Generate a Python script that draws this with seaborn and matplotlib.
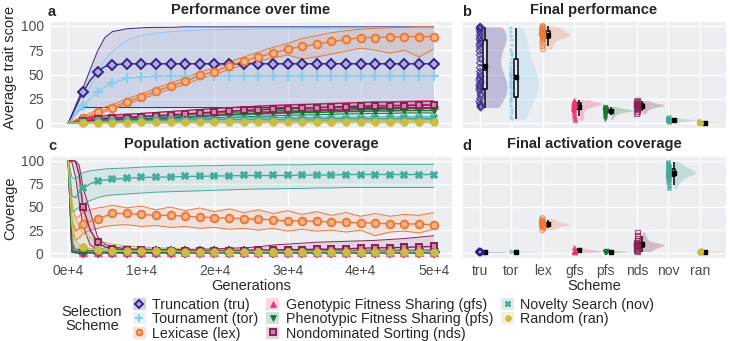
#tratamiento de datos
import numpy as np
import pandas as pd

#visualizaciones
import seaborn as sns
import matplotlib.pyplot as plt
from matplotlib.lines import Line2D
from matplotlib.patches import Patch


# esquemas de seleccion
schemes = ['tru', 'tor', 'lex', 'gfs', 'pfs', 'nds', 'nov', 'ran']
scheme_names = ['Truncation (tru)', 'Tournament (tor)', 'Lexicase (lex)',
                'Genotypic Fitness Sharing (gfs)', 'Phenotypic Fitness Sharing (pfs)',
                'Nondominated Sorting (nds)', 'Novelty Search (nov)', 'Random (ran)']

# generaciones muestreadas
gens = [0, 500, 1000, 1500, 2000, 3000, 4000, 5000, 6000, 8000, 10000, 12000, 14000,
        16000, 18000, 20000, 22000, 24000, 26000, 28000, 30000, 32000, 34000, 36000,
        38000, 40000, 42000, 44000, 46000, 48000, 50000]

xtick_vals = [0, 10000, 20000, 30000, 40000, 50000]
xtick_labels = ['0e+4', '1e+4', '2e+4', '3e+4', '4e+4', '5e+4']
ytick_vals = [0, 25, 50, 75, 100]

# rendimiento medio (mediana) y banda
perf_med = {
    'tru': [0, 8, 16, 24, 32, 44, 53, 58, 60, 61, 61, 61, 61, 61, 61, 61, 61, 61, 61, 61, 61, 61, 61, 61, 61, 61, 61, 61, 61, 61, 61],
    'tor': [0, 4, 9, 13, 17.5, 25, 32, 37, 41, 46, 47.5, 48, 48.5, 48.5, 48.5, 48.5, 48.5, 48.5, 48.5, 48.5, 48.5, 48.5, 48.5, 48.5, 48.5, 48.5, 48.5, 48.5, 48.5, 48.5, 48.5],
    'lex': [0, 1, 2.5, 4, 5, 8, 11, 13.5, 16, 22, 27, 33, 38, 43, 49, 53, 59, 64, 68, 72, 76, 79, 81, 84, 86, 88, 88, 88.5, 89, 89, 89],
    'gfs': [0, 0.5, 1.5, 2.5, 3.5, 4.5, 5, 5.5, 6, 6.5, 7, 7.5, 8, 9, 10, 11, 12, 13, 13.5, 14.5, 15, 15.5, 16, 16.5, 17, 17.5, 18, 18, 18.5, 19, 19],
    'pfs': [0, 0, 0.5, 1, 1.5, 2, 2.5, 3, 3.5, 4, 4.5, 5, 6, 6.5, 7, 8, 8.5, 9, 9.5, 10, 10.5, 11, 11, 11.5, 12, 12, 12.5, 12.5, 13, 13, 13],
    'nds': [0, 0, 1, 1.5, 2, 3, 4, 4.5, 5, 5.5, 6.5, 7.5, 8.5, 9.5, 10.5, 11.5, 12.5, 13, 14, 14.5, 15, 15.5, 16, 16.5, 17, 17.5, 18, 18, 18, 18.5, 18.5],
    'nov': [0, 0.3, 0.6, 1, 1.2, 1.5, 1.8, 2, 2.2, 2.5, 2.8, 3, 3, 3.2, 3.4, 3.5, 3.7, 3.8, 4, 4, 4.2, 4.3, 4.4, 4.5, 4.6, 4.7, 4.8, 4.9, 5, 5, 5],
    'ran': [0, 0.1, 0.2, 0.3, 0.4, 0.4, 0.5, 0.5, 0.6, 0.6, 0.7, 0.7, 0.7, 0.8, 0.8, 0.8, 0.8, 0.9, 0.9, 0.9, 0.9, 0.9, 1, 1, 1, 1, 1, 1, 1, 1, 1],
}
perf_lo = {
    'tru': [0, 4, 9, 13, 16, 16, 16, 16, 16, 16, 16, 16, 16, 16, 16, 16, 16, 16, 16, 16, 16, 16, 16, 16, 16, 16, 16, 16, 16, 16, 16],
    'tor': [0, 1, 2, 3, 3.5, 4, 4, 4, 4, 4, 4, 4, 4, 4, 4, 4, 4, 4, 4, 4, 4, 4, 4, 4, 4, 4, 4, 4, 4, 4, 4],
    'lex': [0, 0.5, 1.5, 3, 4, 6.5, 9, 11.5, 14, 19.5, 24.5, 30, 35, 40, 45.5, 50, 55, 60, 63.5, 67, 70, 66, 68, 71, 74, 77, 75, 72, 75, 68, 76],
    'gfs': [0, 0, 0.5, 1, 2, 2.5, 3, 3.5, 4, 4, 4.5, 5, 5.5, 6, 7, 8, 9, 9.5, 10, 11, 11.5, 12, 12.5, 13, 13.5, 14, 14, 14.5, 15, 15, 15.5],
    'pfs': [0, 0, 0, 0.5, 0.5, 1, 1.5, 2, 2, 2.5, 3, 3.5, 4, 4.5, 5, 5.5, 6, 6.5, 7, 7.5, 8, 8.5, 8.5, 9, 9.5, 9.5, 10, 10, 10.5, 10.5, 10.5],
    'nds': [0, 0, 0.5, 0.5, 1, 1.5, 2, 2.5, 3, 3, 3.5, 4, 5, 6, 7, 8, 9, 9.5, 10.5, 11, 11.5, 12, 12.5, 13, 13.5, 14, 14.5, 14.5, 15, 15, 15],
    'nov': [0, 0, 0.2, 0.4, 0.5, 0.7, 0.9, 1, 1.1, 1.3, 1.5, 1.6, 1.7, 1.8, 1.9, 2, 2.1, 2.2, 2.3, 2.4, 2.5, 2.6, 2.7, 2.8, 2.9, 3, 3.1, 3.2, 3.3, 3.3, 3.4],
    'ran': [0, 0, 0, 0, 0, 0, 0, 0, 0.1, 0.1, 0.1, 0.1, 0.1, 0.1, 0.2, 0.2, 0.2, 0.2, 0.2, 0.2, 0.2, 0.2, 0.3, 0.3, 0.3, 0.3, 0.3, 0.3, 0.3, 0.3, 0.3],
}
perf_hi = {
    'tru': [0, 9, 18, 27, 36, 55, 74, 88, 94, 97, 98, 98.5, 98.5, 99, 99, 99, 99, 99, 99, 99, 99, 99, 99, 99, 99, 99, 99, 99, 99, 99, 99],
    'tor': [0, 5, 11, 17, 23, 37, 53, 65, 74, 85, 90, 92.5, 94, 95, 95.5, 96, 96.5, 96.5, 97, 97, 97, 97, 97.5, 97.5, 97.5, 97.5, 98, 98, 98, 98, 98],
    'lex': [0, 1.5, 3.5, 5.5, 7, 10.5, 13.5, 16.5, 19, 25, 30, 36, 41, 46.5, 52.5, 57, 63, 68, 73, 78, 82, 87, 90, 93, 95, 96.5, 97.5, 98, 98.5, 99, 99],
    'gfs': [0, 1, 2.5, 4, 5, 6.5, 7.5, 8, 8.5, 9.5, 10, 11, 12, 13, 14, 15, 16, 17, 17.5, 18.5, 19, 19.5, 20, 20.5, 21, 21.5, 22, 22, 22.5, 23, 23],
    'pfs': [0, 0.5, 1, 2, 2.5, 3, 4, 4.5, 5, 5.5, 6.5, 7, 8, 8.5, 9.5, 10, 11, 11.5, 12, 12.5, 13, 13.5, 14, 14, 14.5, 15, 15, 15.5, 15.5, 16, 16],
    'nds': [0, 0.5, 2, 3, 4, 5.5, 7, 7.5, 8, 9, 10, 11, 12, 13, 14, 15, 16, 16.5, 17.5, 18, 18.5, 19, 19.5, 20, 20.5, 21, 21.5, 21.5, 22, 22, 22.5],
    'nov': [0, 0.8, 1.5, 2, 2.5, 3, 3.3, 3.5, 3.8, 4, 4.3, 4.5, 4.6, 4.8, 5, 5.1, 5.3, 5.4, 5.6, 5.7, 5.8, 5.9, 6, 6.1, 6.2, 6.3, 6.4, 6.5, 6.5, 6.6, 6.6],
    'ran': [0, 0.4, 0.7, 0.9, 1.1, 1.2, 1.3, 1.4, 1.5, 1.6, 1.7, 1.8, 1.8, 1.9, 1.9, 2, 2, 2, 2.1, 2.1, 2.1, 2.2, 2.2, 2.2, 2.2, 2.3, 2.3, 2.3, 2.3, 2.3, 2.3],
}

# cobertura de activacion (mediana) y banda
cov_med = {
    'tru': [100, 4, 2, 1.5, 1.5, 1.5, 1.5, 1.5, 1.5, 1.5, 1.5, 1.5, 1.5, 1.5, 1.5, 1.5, 1.5, 1.5, 1.5, 1.5, 1.5, 1.5, 1.5, 1.5, 1.5, 1.5, 1.5, 1.5, 1.5, 1.5, 1.5],
    'tor': [100, 5, 2.5, 2, 2, 2, 2, 2, 2, 2, 2, 2, 2, 2, 2, 2, 2, 2, 2, 2, 2, 2, 2, 2, 2, 2, 2, 2, 2, 2, 2],
    'lex': [100, 35, 24, 27, 32, 35, 37, 40, 43, 43, 42, 41, 41, 40, 39, 38.5, 38, 37.5, 37, 36, 35, 35, 34.5, 34, 33.5, 33, 32.5, 32, 32, 31.5, 31],
    'gfs': [100, 4, 2, 1.5, 1, 1, 1, 1, 1, 1, 1, 1, 1, 1, 1, 1, 1, 1, 1, 1, 1, 1, 1, 1, 1, 1, 1, 1, 1, 1, 1],
    'pfs': [100, 3, 1.5, 1, 1, 1, 1, 1, 1, 1, 1, 1, 1, 1, 1, 1, 1, 1, 1, 1, 1, 1, 1, 1, 1, 1, 1, 1, 1, 1, 1],
    'nds': [100, 100, 99, 85, 50, 25, 12, 7, 5, 4, 3.5, 3, 3, 3, 3, 3, 3, 3, 3.5, 3.5, 4, 4, 4.5, 4.5, 5, 5.5, 6, 6, 6.5, 7, 7.5],
    'nov': [100, 62, 60, 66, 70, 75, 78, 79, 80, 81, 82, 82, 82.5, 83, 83, 83.5, 83.5, 84, 84, 84, 84, 84.5, 84.5, 84.5, 85, 85, 85, 85, 85, 85, 85],
    'ran': [100, 30, 14, 9, 7, 5, 4, 3.5, 3, 2.5, 2.5, 2.5, 2.5, 2, 2, 2, 2, 2, 2, 2, 2, 2, 2, 2, 2, 2, 2, 2, 2, 2, 2],
}
cov_lo = {
    'tru': [100, 2, 1, 1, 1, 1, 1, 1, 1, 1, 1, 1, 1, 1, 1, 1, 1, 1, 1, 1, 1, 1, 1, 1, 1, 1, 1, 1, 1, 1, 1],
    'tor': [100, 2, 1, 1, 1, 1, 1, 1, 1, 1, 1, 1, 1, 1, 1, 1, 1, 1, 1, 1, 1, 1, 1, 1, 1, 1, 1, 1, 1, 1, 1],
    'lex': [100, 22, 14, 17, 21, 25, 27, 29, 30, 31, 29, 30, 28, 29, 27, 28, 26, 27, 25, 27, 24, 26, 24, 25, 23, 25, 19, 23, 24, 22, 26],
    'gfs': [100, 1, 0.5, 0.5, 0.5, 0.5, 0.5, 0.5, 0.5, 0.5, 0.5, 0.5, 0.5, 0.5, 0.5, 0.5, 0.5, 0.5, 0.5, 0.5, 0.5, 0.5, 0.5, 0.5, 0.5, 0.5, 0.5, 0.5, 0.5, 0.5, 0.5],
    'pfs': [100, 1, 0.5, 0.5, 0.5, 0.5, 0.5, 0.5, 0.5, 0.5, 0.5, 0.5, 0.5, 0.5, 0.5, 0.5, 0.5, 0.5, 0.5, 0.5, 0.5, 0.5, 0.5, 0.5, 0.5, 0.5, 0.5, 0.5, 0.5, 0.5, 0.5],
    'nds': [100, 98, 82, 55, 30, 9, 4, 3, 2.5, 2, 2, 2, 2, 2, 2, 2, 2, 2, 2, 2, 2, 2.5, 2.5, 2.5, 3, 3, 3, 3, 3.5, 3.5, 4],
    'nov': [100, 45, 47, 50, 53, 57, 60, 62, 63, 64, 65, 66, 66.5, 67, 67.5, 68, 68.5, 69, 69.5, 69.5, 70, 70, 70.5, 70.5, 71, 71, 71, 71, 71, 71, 71],
    'ran': [100, 15, 5, 3, 2, 1.5, 1, 1, 1, 1, 1, 1, 1, 1, 1, 1, 1, 1, 1, 1, 1, 1, 1, 1, 1, 1, 1, 1, 1, 1, 1],
}
cov_hi = {
    'tru': [100, 12, 5, 4, 3.5, 3, 3, 3, 3, 3, 3, 3, 3, 3, 3, 3, 3, 3, 3, 3, 3, 3, 3, 3, 3, 3, 3, 3, 3, 3, 3],
    'tor': [100, 20, 9, 6, 5, 5, 6, 5, 6, 8, 7, 6, 5, 4.5, 4, 4, 4, 4, 4, 4, 4, 4, 4, 4, 4, 4, 4, 4, 4, 4, 4],
    'lex': [100, 55, 38, 40, 44, 47, 49, 50, 52, 49, 51, 47, 50, 46, 49, 45, 48, 44, 47, 43, 46, 42, 45, 41, 44, 40, 43, 40, 42, 41, 44],
    'gfs': [100, 10, 4, 3, 2.5, 2.5, 2.5, 2.5, 2.5, 2.5, 2.5, 2.5, 2.5, 2.5, 2.5, 2.5, 2.5, 2.5, 2.5, 2.5, 2.5, 2.5, 2.5, 2.5, 2.5, 2.5, 2.5, 2.5, 2.5, 2.5, 2.5],
    'pfs': [100, 8, 3, 2.5, 2, 2, 2, 2, 2, 2, 2, 2, 2, 2, 2, 2, 2, 2, 2, 2, 2, 2, 2, 2, 2, 2, 2, 2, 2, 2, 2],
    'nds': [100, 100, 99.5, 95, 72, 45, 18, 10, 7, 5, 4.5, 4.5, 4, 4, 4.5, 5, 5.5, 6, 7, 9, 10, 11, 12, 12.5, 13, 13.5, 14, 15, 16, 17.5, 19],
    'nov': [100, 82, 80, 84, 87, 89, 90, 91, 91.5, 92, 93, 93.5, 94, 94, 94.5, 94.5, 95, 95, 95, 95.5, 95.5, 95.5, 96, 96, 96, 96, 96, 96, 96, 96, 96],
    'ran': [100, 55, 38, 28, 22, 17, 14, 12, 10, 8, 7, 6, 5.5, 5, 4.5, 4.5, 4, 4, 4, 4, 4, 4, 4, 4, 4, 4, 4, 4, 4, 4, 4],
}

# valores finales por replica
final_perf = {
    'tru': [16, 17, 18, 20, 22, 25, 28, 30, 33, 35, 37, 38, 40, 42, 44, 46, 48, 50, 53, 57, 62, 66, 70, 74, 77, 80, 82, 84, 86, 88, 90, 92, 94, 96, 97, 98, 99, 99],
    'tor': [4, 6, 10, 14, 18, 22, 24, 25, 27, 30, 33, 36, 38, 40, 42, 44, 46, 47, 48, 50, 52, 55, 58, 62, 66, 70, 72, 75, 80, 85, 90, 94, 98],
    'lex': [76, 79, 82, 84, 86, 87, 88, 89, 90, 90, 91, 91, 91, 92, 92, 93, 94, 95, 96, 97, 98, 99, 100],
    'gfs': [3, 5, 7, 9, 11, 13, 15, 16, 17, 18, 18, 19, 19, 19, 20, 20, 20, 20, 21, 21, 21, 22, 22, 23, 24],
    'pfs': [4, 6, 8, 9, 10, 11, 11, 12, 12, 12, 13, 13, 13, 13, 13, 14, 14, 14, 15, 15, 16, 17],
    'nds': [10, 12, 14, 15, 16, 17, 17, 18, 18, 18, 19, 19, 19, 20, 20, 21, 22, 23],
    'nov': [1, 2, 2, 3, 3, 3, 3, 4, 4, 4, 5, 6],
    'ran': [0, 0, 0, 0, 0.5, 0.5, 1, 1, 1.5, 2],
}
final_cov = {
    'tru': [1, 1, 1, 1, 1.5, 1.5, 1.5, 1.5, 2, 2, 2],
    'tor': [1, 1, 1.5, 1.5, 1.5, 2, 2, 2, 2.5],
    'lex': [25, 27, 28, 29, 30, 30, 31, 31, 31, 32, 32, 33, 33, 34, 35, 36, 38],
    'gfs': [1, 1.5, 2, 2, 2.5, 3, 3, 3.5, 4, 5, 7],
    'pfs': [1, 1, 1.5, 1.5, 2, 2, 2, 2.5, 3],
    'nds': [2, 3, 4, 5, 6, 7, 8, 8, 9, 9, 9, 10, 10, 11, 12, 14, 16, 19, 23],
    'nov': [70, 74, 77, 79, 80, 82, 83, 84, 85, 86, 86, 87, 87, 87, 88, 88, 89, 90, 91, 92, 93, 94, 95, 97, 99],
    'ran': [0.5, 1, 1.5, 1.5, 2, 2, 2, 2.5, 3, 4],
}

# colores y marcadores
colors = {'tru': '#332288', 'tor': '#88CCEE', 'lex': '#EE7733', 'gfs': '#EE3377',
          'pfs': '#117733', 'nds': '#882255', 'nov': '#44AA99', 'ran': '#CCBB44'}
line_mk = {
    'tru': dict(marker='D', ms=5, mfc='#B3ABDF', mew=1.4),
    'tor': dict(marker='+', ms=7, mew=1.6),
    'lex': dict(marker='o', ms=5.5, mfc='#F6B386', mew=1.4),
    'gfs': dict(marker='^', ms=5.5, mew=0.5),
    'pfs': dict(marker='v', ms=5.5, mew=0.5),
    'nds': dict(marker='s', ms=5, mfc='#C98AAA', mew=1.4),
    'nov': dict(marker='X', ms=6, mew=0.3),
    'ran': dict(marker='o', ms=5.5, mew=0.6),
}
pt_mk = {'tru': ('D', 'open'), 'tor': ('+', 'line'), 'lex': ('o', 'open'), 'gfs': ('^', 'fill'),
         'pfs': ('v', 'fill'), 'nds': ('s', 'open'), 'nov': ('X', 'fill'), 'ran': ('o', 'fill')}

mark_idx = [i for i, g in enumerate(gens) if g > 0 and g % 2000 == 0]


def panel_tiempo(ax, med, lo, hi):
    """Bandas + mediana con marcadores cada 2000 generaciones."""
    for s in schemes:
        ax.fill_between(gens, lo[s], hi[s], color=colors[s], alpha=0.12, lw=0)
    for s in schemes:
        ax.plot(gens, lo[s], color=colors[s], lw=0.7)
        ax.plot(gens, hi[s], color=colors[s], lw=0.7)
    for s in schemes:
        ax.plot(gens, med[s], color=colors[s], lw=1, mec=colors[s],
                markevery=mark_idx, **line_mk[s])
    ax.set_xlim(-2500, 52500)
    ax.set_ylim(-5, 105)
    ax.set_xticks(xtick_vals)
    ax.set_yticks(ytick_vals)


def medio_violin(ax, x0, vals, color, half_width=0.7):
    """Media violin (lado derecho) recortado al rango de los datos."""
    v = np.asarray(vals, dtype=float)
    sd = v.std(ddof=1)
    iqr = np.subtract(*np.percentile(v, [75, 25]))
    bw = 0.9 * min(sd, iqr / 1.34 if iqr > 0 else sd) * len(v) ** -0.2
    bw = max(bw, 0.15)
    y = np.linspace(v.min(), v.max(), 200)
    dens = np.exp(-0.5 * ((y[:, None] - v[None, :]) / bw) ** 2).sum(axis=1)
    dens = dens / dens.max() * half_width
    ax.fill_betweenx(y, x0, x0 + dens, color=color, alpha=0.25, lw=0)


def panel_final(ax, datos):
    """Media-violin + caja + puntos para cada esquema."""
    for i, s in enumerate(schemes):
        vals = datos[s]
        x_pts = [i] * len(vals)
        x_box = [i + 0.16] * len(vals)
        medio_violin(ax, i + 0.16, vals, colors[s])
        mk, kind = pt_mk[s]
        sns.stripplot(x=x_pts, y=vals, native_scale=True, orient='x', jitter=0.03,
                      size=3.5, marker=mk, color=colors[s], ax=ax)
        pts = ax.collections[-1]
        if kind == 'open':
            pts.set_facecolor('none')
            pts.set_edgecolor(colors[s])
            pts.set_linewidth(0.9)
        elif kind == 'line':
            pts.set_edgecolor(colors[s])
            pts.set_linewidth(1.1)
        else:
            pts.set_facecolor(colors[s])
            pts.set_edgecolor(colors[s])
            pts.set_linewidth(0.3)
        pts.set_alpha(0.75)
        sns.boxplot(x=x_box, y=vals, native_scale=True, orient='x', width=0.12,
                    color='black', fill=False, linewidth=1.1, showfliers=False,
                    showmeans=True, capprops={'linewidth': 0},
                    meanprops=dict(marker='s', markerfacecolor='black',
                                   markeredgecolor='black', markersize=3.2), ax=ax)
    ax.set_xlim(-0.57, 7.83)
    ax.set_ylim(-5, 105)
    ax.set_xticks(range(len(schemes)))
    ax.set_yticks(ytick_vals)


sns.set_style('darkgrid', {'axes.facecolor': '#EDEEF2', 'grid.color': 'white'})
plt.rcParams['font.family'] = ['Liberation Sans', 'DejaVu Sans']
plt.rcParams['font.size'] = 10.5

W, H = 730, 341
fig = plt.figure(figsize=(W / 100, H / 100), dpi=100)


def rect(l, t, r, b):
    return [l / W, 1 - b / H, (r - l) / W, (b - t) / H]


ax_a = fig.add_axes(rect(50, 21, 452, 128))
ax_b = fig.add_axes(rect(462, 21, 726, 128))
ax_c = fig.add_axes(rect(50, 156, 452, 258))
ax_d = fig.add_axes(rect(462, 156, 726, 258))

panel_tiempo(ax_a, perf_med, perf_lo, perf_hi)
panel_tiempo(ax_c, cov_med, cov_lo, cov_hi)
panel_final(ax_b, final_perf)
panel_final(ax_d, final_cov)

tick_col = '#4D4D4D'
for ax in (ax_a, ax_b, ax_c, ax_d):
    ax.set_xlabel('')
    ax.set_ylabel('')
    ax.grid(True, color='white', lw=1)
    ax.tick_params(colors=tick_col, labelsize=10, length=0, pad=1.5)

ax_a.set_xticklabels([])
ax_b.set_xticklabels([])
ax_b.set_yticklabels([])
ax_d.set_yticklabels([])
ax_c.set_xticklabels(xtick_labels)
ax_d.set_xticklabels(schemes)
ax_a.tick_params(axis='y', length=3, color='#333333', width=0.8)
ax_c.tick_params(axis='y', length=3, color='#333333', width=0.8)
ax_c.tick_params(axis='x', length=3, color='#333333', width=0.8)
ax_d.tick_params(axis='x', length=3, color='#333333', width=0.8)

# titulos y etiquetas de panel
fig.text(251 / W, 1 - 10 / H, 'Performance over time', ha='center', va='center', fontweight='bold')
fig.text(594 / W, 1 - 10 / H, 'Final performance', ha='center', va='center', fontweight='bold')
fig.text(251 / W, 1 - 144 / H, 'Population activation gene coverage', ha='center', va='center', fontweight='bold')
fig.text(594 / W, 1 - 144 / H, 'Final activation coverage', ha='center', va='center', fontweight='bold')
for lab, x, y in [('a', 48, 12), ('b', 462, 12), ('c', 48, 146), ('d', 462, 146)]:
    fig.text(x / W, 1 - y / H, lab, ha='left', va='center', fontweight='bold')

fig.text(10 / W, 1 - 67 / H, 'Average trait score', rotation=90, ha='center', va='center')
fig.text(10 / W, 1 - 208 / H, 'Coverage', rotation=90, ha='center', va='center')
fig.text(251 / W, 1 - 286 / H, 'Generations', ha='center', va='center')
fig.text(594 / W, 1 - 286 / H, 'Scheme', ha='center', va='center')

# leyenda
handles = []
for s in schemes:
    kw = dict(line_mk[s])
    kw['ms'] = kw['ms'] * 0.75
    handles.append((Patch(facecolor=colors[s], alpha=0.2, edgecolor='none'),
                    Line2D([], [], lw=0, color=colors[s], mec=colors[s], **kw)))
fig.legend(handles, scheme_names, loc='upper left', bbox_to_anchor=(133 / W, 1 - 298 / H),
           ncol=3, frameon=False, handlelength=0.9, handleheight=0.9, handletextpad=0.45,
           columnspacing=0.55, labelspacing=0.02, borderpad=0, borderaxespad=0, fontsize=10.3)
fig.text(92 / W, 1 - 319 / H, 'Selection\nScheme', ha='center', va='center', linespacing=1.05)

fig.savefig('out.png', dpi=100)
